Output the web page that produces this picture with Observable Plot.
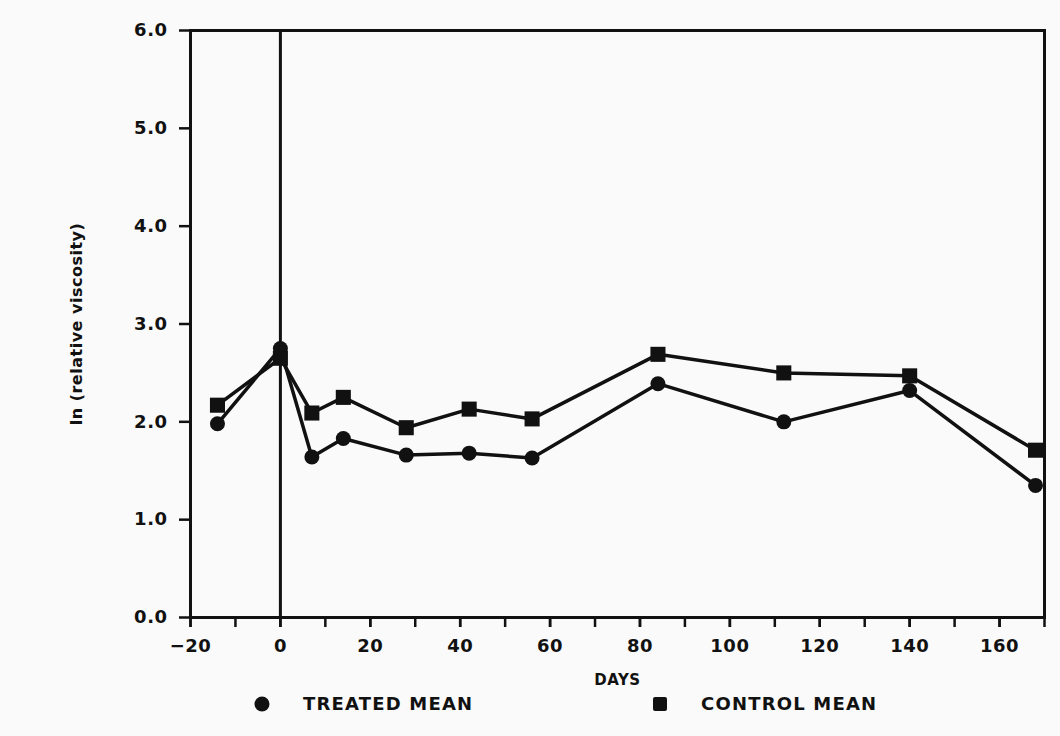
<!DOCTYPE html>
<html>
<head>
<meta charset="utf-8">
<script src="https://cdn.jsdelivr.net/npm/d3@7"></script>
<script src="https://cdn.jsdelivr.net/npm/@observablehq/plot@0.6"></script>
<style>
  html, body { margin: 0; padding: 0; background: #fafafa; }
  #chart { width: 1060px; height: 690px; }
  .legend { position: relative; width: 1060px; height: 46px; font-family: "DejaVu Sans", sans-serif; font-weight: bold; font-size: 18px; color: #111; }
  .legend .item { position: absolute; top: 3px; display: flex; align-items: center; gap: 32px; letter-spacing: 1.2px; }
  .legend svg { display: block; }
</style>
</head>
<body>
<div id="chart"></div>
<div class="legend" id="legend"></div>
<script>
const days = [-14, 0, 7, 14, 28, 42, 56, 84, 112, 140, 168];
const treatedMean = [1.98, 2.75, 1.64, 1.83, 1.66, 1.68, 1.63, 2.39, 2.00, 2.32, 1.35];
const controlMean = [2.17, 2.65, 2.09, 2.25, 1.94, 2.13, 2.03, 2.69, 2.50, 2.47, 1.71];
const seriesNames = ["TREATED MEAN", "CONTROL MEAN"];
const xTicksMajor = [-20, 0, 20, 40, 60, 80, 100, 120, 140, 160];
const xTicksMinor = [-20, -10, 0, 10, 20, 30, 40, 50, 60, 70, 80, 90, 100, 110, 120, 130, 140, 150, 160, 170];
const yTicks = [0, 1, 2, 3, 4, 5, 6];

const treated = days.map((d, i) => ({day: d, value: treatedMean[i], series: seriesNames[0]}));
const control = days.map((d, i) => ({day: d, value: controlMean[i], series: seriesNames[1]}));

const chart = Plot.plot({
  width: 1060,
  height: 690,
  marginLeft: 190,
  marginRight: 16,
  marginTop: 30,
  marginBottom: 73,
  style: {fontFamily: "DejaVu Sans, sans-serif", fontWeight: "bold", fontSize: "17px", background: "#fafafa", color: "#111", letterSpacing: "0.5px"},
  x: {domain: [-20, 170]},
  y: {domain: [0, 6]},
  marks: [
    Plot.axisY({ticks: yTicks, tickFormat: d3.format(".1f"), tickSize: 11, tickPadding: 12, strokeWidth: 2.5, label: null, fontSize: 18}),
    Plot.axisY({ticks: [3], tickSize: 0, tickFormat: () => "",
      label: "ln (relative viscosity)", labelAnchor: "center", labelOffset: 120, labelArrow: "none", fontSize: 16}),
    Plot.axisX({ticks: xTicksMinor, tickSize: 10, tickFormat: () => "", strokeWidth: 2.5, label: null}),
    Plot.axisX({ticks: xTicksMajor, tickSize: 10, tickPadding: 12, strokeWidth: 2.5, tickFormat: d => d < 0 ? "\u2212" + Math.abs(d) : d,
      label: null, fontSize: 18}),
    Plot.axisX({ticks: [75], tickSize: 0, tickFormat: () => "",
      label: "DAYS", labelAnchor: "center", labelOffset: 67, labelArrow: "none", fontSize: 15}),
    Plot.frame({stroke: "#111", strokeWidth: 3}),
    Plot.ruleX([0], {stroke: "#111", strokeWidth: 3}),
    Plot.line(control, {x: "day", y: "value", stroke: "#111", strokeWidth: 3.5}),
    Plot.line(treated, {x: "day", y: "value", stroke: "#111", strokeWidth: 3.5}),
    Plot.dot(control, {x: "day", y: "value", symbol: "square", r: 8.5, fill: "#111"}),
    Plot.dot(treated, {x: "day", y: "value", symbol: "circle", r: 7.5, fill: "#111"})
  ]
});
document.getElementById("chart").appendChild(chart);

const legend = document.getElementById("legend");
const legendItems = [
  {name: seriesNames[0], left: 253, shape: "circle"},
  {name: seriesNames[1], left: 651, shape: "square"}
];
for (const it of legendItems) {
  const div = document.createElement("div");
  div.className = "item";
  div.style.left = it.left + "px";
  const shape = it.shape === "circle"
    ? '<svg width="18" height="18"><circle cx="9" cy="9" r="7.5" fill="#111"/></svg>'
    : '<svg width="18" height="18"><rect x="2" y="2" width="14" height="14" rx="2" fill="#111"/></svg>';
  div.innerHTML = shape + '<span>' + it.name + '</span>';
  legend.appendChild(div);
}
</script>
</body>
</html>
